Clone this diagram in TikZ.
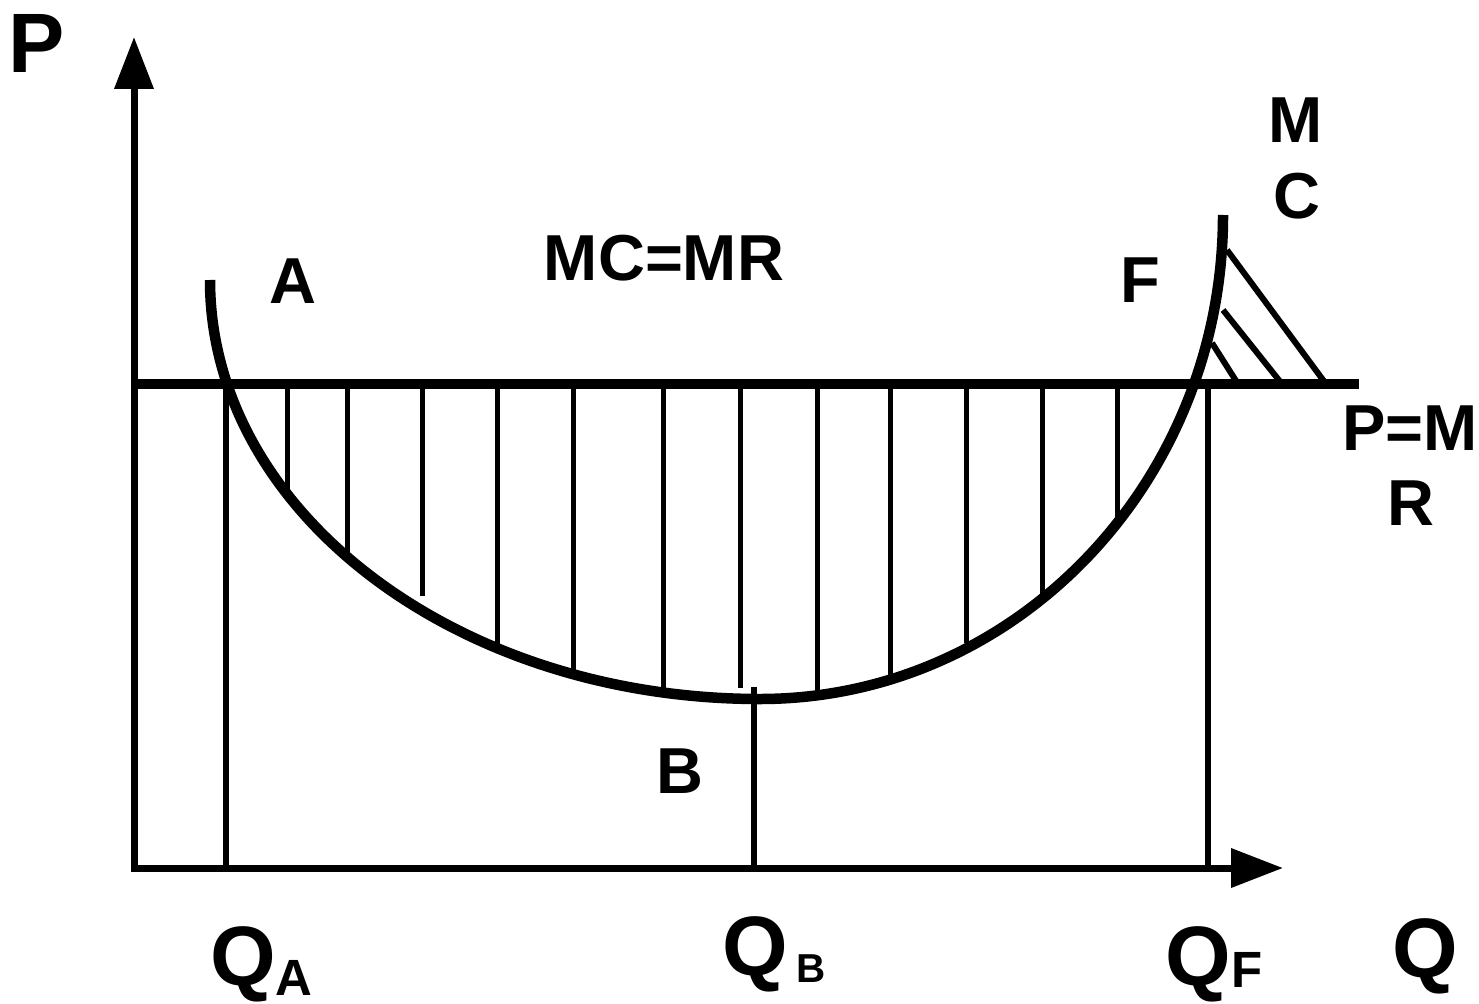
\documentclass[tikz,border=0pt]{standalone}
\usepackage{fontspec}
\setmainfont{Liberation Sans}
\usepackage{tikz}
\usetikzlibrary{arrows.meta}

\begin{document}
\begin{tikzpicture}[x=0.02cm,y=-0.02cm,
    axisline/.style={line width=0.14cm,black},
    mcline/.style={line width=0.21cm,black},
    pline/.style={line width=0.2cm,black},
    hatchline/.style={line width=0.1cm,black},
    dropline/.style={line width=0.12cm,black},
    lbl/.style={inner sep=0pt,anchor=base,font=\bfseries\fontsize{37}{40}\selectfont},
    lblbig/.style={inner sep=0pt,anchor=base,font=\bfseries\fontsize{48}{50}\selectfont},
    lblsub/.style={inner sep=0pt,anchor=base,font=\bfseries\fontsize{29}{32}\selectfont}]
    \useasboundingbox (0,0) rectangle (1479,1003);
    % axes
        \draw[axisline,{Triangle[length=1.04cm,width=0.76cm]}-{Triangle[length=1.04cm,width=0.76cm]}](134,37)--(134,868)--(1283,868);
    % price line P=MR
        \draw[pline](134,384)--(1359,384);
    % hatching under the line
        \draw[hatchline](287,384)--(287,494);
        \draw[hatchline](347,384)--(347,557);
        \draw[hatchline](422,384)--(422,596);
        \draw[hatchline](497,384)--(497,648);
        \draw[hatchline](573,384)--(573,674);
        \draw[hatchline](663,384)--(663,692);
        \draw[hatchline](740,384)--(740,688);
        \draw[hatchline](817,384)--(817,695);
        \draw[hatchline](890,384)--(890,680);
        \draw[hatchline](966,384)--(966,643);
        \draw[hatchline](1042,384)--(1042,599);
        \draw[hatchline](1117,384)--(1117,519);
    % hatching above the line
        \draw[dropline](1227,250)--(1326,384);
        \draw[dropline](1223,310)--(1282,384);
        \draw[dropline](1212,343)--(1238,384);
    % drop lines
        \draw[dropline](226,384)--(226,868);
        \draw[dropline](754,687)--(754,868);
        \draw[dropline](1208,384)--(1208,868);
    % MC curve
        \draw[mcline](210,280) arc[start angle=180,end angle=90,x radius=550,y radius=419]
            arc[start angle=90,end angle=0,x radius=463,y radius=484];
    % labels
        \node[lblbig] (p) at (37,73) {P};
        \node[lbl] (a) at (293,303) {A};
        \node[lbl] (mcmr) at (664,280) {MC=MR};
        \node[lbl] (f) at (1140,302) {F};
        \node[lbl] (m) at (1296,143) {M};
        \node[lbl] (c) at (1297,219) {C};
        \node[lbl] (pm) at (1410,450) {P=M};
        \node[lbl] (r) at (1411,525) {R};
        \node[lbl] (b) at (680,793) {B};
        \node[lblbig] (qa) at (243,985) {Q};
        \node[lblsub] (qasub) at (294,995) {A};
        \node[lblbig] (qb) at (755,975) {Q};
        \node[lblsub,font=\bfseries\fontsize{23}{25}\selectfont] (qbsub) at (811,982) {B};
        \node[lblbig] (qf) at (1198,985) {Q};
        \node[lblsub] (qfsub) at (1247,987) {F};
        \node[lblbig] (q) at (1425,977) {Q};
\end{tikzpicture}
\end{document}
